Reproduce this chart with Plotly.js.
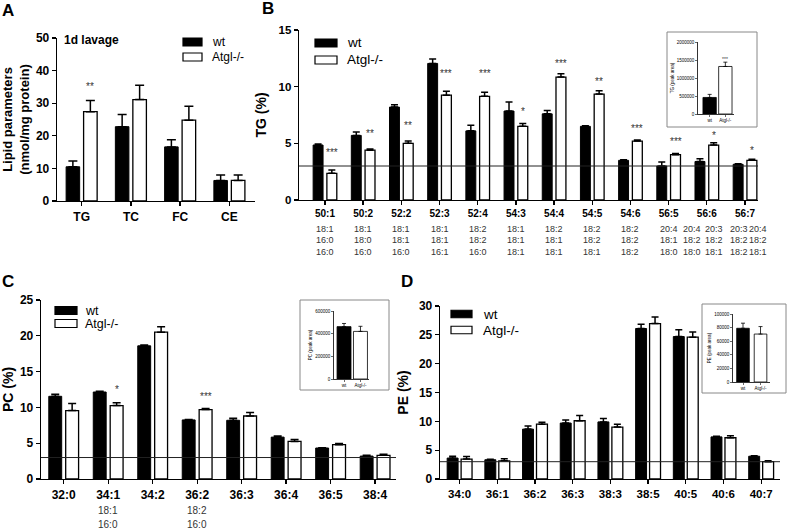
<!DOCTYPE html>
<html>
<head>
<meta charset="utf-8">
<script src="https://cdn.plot.ly/plotly-3.0.1.min.js"></script>
<style>html,body{margin:0;padding:0;background:#fff;}#chart{width:788px;height:531px;}</style>
</head>
<body>
<div id="chart"></div>
<script>
// ---------------- DATA ----------------
// Panel A
const aCategories = ['TG', 'TC', 'FC', 'CE'];
const aWt = [10.5, 22.8, 16.6, 6.3];
const aWtErr = [1.8, 3.7, 2.2, 1.7];
const aKo = [27.4, 31.1, 24.8, 6.3];
const aKoErr = [3.4, 4.4, 4.3, 1.7];
const aStars = ['**', '', '', ''];
const aStarY = [35.9, null, null, null];

// Panel B (TG species); each entry: list of columns, each column = 3 chains
const bCategories = ['50:1', '50:2', '52:2', '52:3', '52:4', '54:3', '54:4', '54:5', '54:6', '56:5', '56:6', '56:7'];
const bChains = [
  [['18:1', '16:0', '16:0']], [['18:1', '18:0', '16:0']], [['18:1', '18:1', '16:0']], [['18:1', '18:1', '16:1']],
  [['18:2', '18:2', '16:0']], [['18:1', '18:1', '18:1']], [['18:2', '18:1', '18:1']], [['18:2', '18:2', '18:1']],
  [['18:2', '18:2', '18:2']], [['20:4', '18:1', '18:0']],
  [['20:4', '18:2', '18:0'], ['20:3', '18:2', '18:1']],
  [['20:3', '18:2', '18:2'], ['20:4', '18:2', '18:1']]
];
const bWt = [4.85, 5.7, 8.2, 12.05, 6.1, 7.85, 7.6, 6.5, 3.5, 3.0, 3.4, 3.15];
const bWtErr = [0.1, 0.3, 0.2, 0.4, 0.5, 0.8, 0.3, 0.05, 0.05, 0.35, 0.25, 0.05];
const bKo = [2.35, 4.4, 5.0, 9.25, 9.15, 6.5, 10.85, 9.35, 5.2, 4.0, 4.85, 3.5];
const bKoErr = [0.3, 0.1, 0.2, 0.35, 0.35, 0.25, 0.3, 0.3, 0.1, 0.1, 0.2, 0.1];
const bStars = ['***', '**', '**', '***', '***', '*', '***', '**', '***', '***', '*', '*'];
const bStarY = [4.4, 6.1, 6.8, 11.4, 11.4, 8.0, 12.3, 10.7, 6.5, 5.35, 5.95, 4.6];

// Panel C (PC species)
const cCategories = ['32:0', '34:1', '34:2', '36:2', '36:3', '36:4', '36:5', '38:4'];
const cChains = [[], [['18:1', '16:0']], [], [['18:2', '16:0']], [], [], [], []];
const cWt = [11.55, 12.15, 18.6, 8.25, 8.2, 5.85, 4.33, 3.2];
const cWtErr = [0.3, 0.1, 0.1, 0.05, 0.3, 0.15, 0.05, 0.1];
const cKo = [9.55, 10.25, 20.5, 9.7, 8.8, 5.25, 4.8, 3.3];
const cKoErr = [1.0, 0.4, 0.75, 0.15, 0.5, 0.25, 0.15, 0.15];
const cStars = ['', '*', '', '***', '', '', '', ''];
const cStarY = [null, 12.8, null, 11.9, null, null, null, null];

// Panel D (PE species)
const dCategories = ['34:0', '36:1', '36:2', '36:3', '38:3', '38:5', '40:5', '40:6', '40:7'];
const dWt = [3.63, 3.34, 8.65, 9.7, 9.9, 26.1, 24.7, 7.3, 3.95];
const dWtErr = [0.3, 0.1, 0.55, 0.55, 0.6, 0.75, 1.2, 0.1, 0.1];
const dKo = [3.45, 3.15, 9.5, 10.1, 9.0, 26.95, 24.6, 7.15, 3.0];
const dKoErr = [0.45, 0.35, 0.35, 0.9, 0.5, 1.15, 0.9, 0.35, 0.15];

// Insets (total peak area)
const insetGroups = ['wt', 'Atgl-/-'];
const bInsetVals = [460000, 1320000];
const bInsetErr = [85000, 120000];
const bInsetStars = ['', '***'];
const bInsetStarY = [null, 1600000];
const cInsetVals = [462000, 420000];
const cInsetErr = [28000, 45000];
const dInsetVals = [79000, 70500];
const dInsetErr = [7500, 11000];

const seriesNames = ['wt', 'Atgl-/-'];
const cutoffLine = 3;

// ---------------- LAYOUT HELPERS ----------------
const W = 788, H = 531;
const FONT = 'Liberation Sans, Arial, Helvetica, sans-serif';
const px = v => v / W;
const py = v => 1 - v / H;

const traces = [];
const annotations = [];
const shapes = [];

function barPair(xa, ya, cats, wt, wtErr, ko, koErr, off, w, capW) {
  const x = cats.map((_, i) => i);
  const zeros = x.map(() => 0);
  traces.push({
    type: 'bar', name: seriesNames[0], x: x, y: wt, xaxis: xa, yaxis: ya,
    offset: -off - w, width: w, showlegend: false, hoverinfo: 'skip',
    marker: {color: '#000', line: {color: '#000', width: 1}},
    error_y: {type: 'data', array: wtErr, arrayminus: zeros, symmetric: false, color: '#000', thickness: 1.5, width: capW}
  });
  traces.push({
    type: 'bar', name: seriesNames[1], x: x, y: ko, xaxis: xa, yaxis: ya,
    offset: off, width: w, showlegend: false, hoverinfo: 'skip',
    marker: {color: '#fff', line: {color: '#000', width: 1.3}},
    error_y: {type: 'data', array: koErr, arrayminus: zeros, symmetric: false, color: '#000', thickness: 1.5, width: capW}
  });
}

function insetBars(xa, ya, vals, errs, w) {
  traces.push({
    type: 'bar', x: insetGroups.map((_, i) => i), y: vals, xaxis: xa, yaxis: ya,
    width: w, showlegend: false, hoverinfo: 'skip',
    marker: {color: ['#000', '#fff'], line: {color: '#000', width: 0.8}},
    error_y: {type: 'data', array: errs, arrayminus: vals.map(() => 0), symmetric: false, color: '#000', thickness: 0.8, width: 2}
  });
}

function stars(xref, yref, list, ys, xOff, size) {
  list.forEach((s, i) => {
    if (!s) return;
    annotations.push({xref: xref, yref: yref, x: i + xOff, y: ys[i], text: s, showarrow: false,
      xanchor: 'center', yanchor: 'middle', yshift: -2.5, font: {family: FONT, size: size, color: '#333'}});
  });
}

function legendBlock(x0, x1, yWt, yKo, h, textX, size) {
  [[yWt, '#000'], [yKo, '#fff']].forEach((p, k) => {
    shapes.push({type: 'rect', xref: 'paper', yref: 'paper', x0: px(x0), x1: px(x1),
      y0: py(p[0] + h / 2), y1: py(p[0] - h / 2), fillcolor: p[1], line: {color: '#000', width: 1.2}});
    annotations.push({xref: 'paper', yref: 'paper', x: px(textX), y: py(p[0]), text: seriesNames[k],
      showarrow: false, xanchor: 'left', yanchor: 'middle', font: {family: FONT, size: size, color: '#000'}});
  });
}

function panelLabel(t, x, y) {
  annotations.push({xref: 'paper', yref: 'paper', x: px(x), y: py(y), text: '<b>' + t + '</b>', showarrow: false,
    xanchor: 'center', yanchor: 'middle', font: {family: FONT, size: 17, color: '#000'}});
}

// columns of a two-column entry are set apart so that neighbouring entries do not collide
const twoColShift = [[-0.4, 0.2], [-0.17, 0.33]];
function chainLabels(xref, chains, yStart, step, size) {
  let twoColCount = 0;
  chains.forEach((cols, i) => {
    const shifts = cols.length === 2 ? twoColShift[twoColCount++] : [0];
    cols.forEach((lines, c) => {
      lines.forEach((t, k) => {
        annotations.push({xref: xref, yref: 'paper', x: i + shifts[c], y: py(yStart + k * step), text: t, showarrow: false,
          xanchor: 'center', yanchor: 'middle', font: {family: FONT, size: size, color: '#333'}});
      });
    });
  });
}

function mainX(domL, domR, range, cats, size) {
  return {domain: [px(domL), px(domR)], range: range, showgrid: false, zeroline: false,
    showline: true, linecolor: '#000', linewidth: 1.3, ticks: 'outside', ticklen: 4, tickwidth: 1.3, tickcolor: '#000',
    tickvals: cats.map((_, i) => i), ticktext: cats, fixedrange: true,
    tickfont: {family: FONT, size: size, color: '#000', weight: 'bold'}};
}
function mainY(domT, domB, range, dtick, title, tsize, standoff, ticksize) {
  return {domain: [py(domB), py(domT)], range: range, dtick: dtick, showgrid: false, zeroline: false,
    showline: true, linecolor: '#000', linewidth: 1.3, ticks: 'outside', ticklen: 4, tickwidth: 1.3, tickcolor: '#000',
    fixedrange: true, tickfont: {family: FONT, size: ticksize, color: '#000', weight: 'bold'},
    title: {text: title, standoff: standoff, font: {family: FONT, size: tsize, color: '#000', weight: 'bold'}}};
}
function insetX(domL, domR, range) {
  return {domain: [px(domL), px(domR)], range: range, showgrid: false, zeroline: false,
    showline: true, linecolor: '#000', linewidth: 0.8, ticks: 'outside', ticklen: 2, tickwidth: 0.8,
    tickvals: insetGroups.map((_, i) => i), ticktext: insetGroups, fixedrange: true,
    tickfont: {family: FONT, size: 4.5, color: '#000'}};
}
function insetY(domT, domB, range, dtick, title) {
  return {domain: [py(domB), py(domT)], range: range, dtick: dtick, showgrid: false, zeroline: false,
    showline: true, linecolor: '#000', linewidth: 0.8, ticks: 'outside', ticklen: 2, tickwidth: 0.8,
    tickformat: 'd', fixedrange: true, tickfont: {family: FONT, size: 4.5, color: '#000'},
    title: {text: title, standoff: 2, font: {family: FONT, size: 4.5, color: '#000'}}};
}
function cutoff(xa, ya) {
  shapes.push({type: 'line', xref: xa + ' domain', yref: ya, x0: 0, x1: 1, y0: cutoffLine, y1: cutoffLine,
    line: {color: '#222', width: 1}});
}
function insetBox(x0, x1, y0, y1) {
  shapes.push({type: 'rect', xref: 'paper', yref: 'paper', layer: 'below', x0: px(x0), x1: px(x1),
    y0: py(y1), y1: py(y0), fillcolor: '#fff', line: {color: '#888', width: 1}});
}

// ---------------- PANELS ----------------
// A
barPair('x', 'y', aCategories, aWt, aWtErr, aKo, aKoErr, 0.04, 0.275, 4.5);
stars('x', 'y', aStars, aStarY, 0.04 + 0.275 / 2, 10);
legendBlock(183, 202, 42, 57, 8, 210, 12);
annotations.push({xref: 'paper', yref: 'paper', x: px(62), y: py(40), text: '<b>1d lavage</b>', showarrow: false,
  xanchor: 'left', yanchor: 'middle', font: {family: FONT, size: 12, color: '#000'}});
panelLabel('A', 8, 11);

// B
barPair('x2', 'y2', bCategories, bWt, bWtErr, bKo, bKoErr, 0.05, 0.26, 3.5);
stars('x2', 'y2', bStars, bStarY, 0.05 + 0.26 / 2, 10);
cutoff('x2', 'y2');
chainLabels('x2', bChains, 229.3, 11.2, 9);
legendBlock(315, 337, 43, 60, 8, 345, 13.5);
panelLabel('B', 268, 9);
insetBox(667, 757, 32, 127);
insetBars('x5', 'y5', bInsetVals, bInsetErr, 0.85);
stars('x5', 'y5', bInsetStars, bInsetStarY, 0, 5);

// C
barPair('x3', 'y3', cCategories, cWt, cWtErr, cKo, cKoErr, 0.045, 0.29, 4);
stars('x3', 'y3', cStars, cStarY, 0.045 + 0.29 / 2, 10);
cutoff('x3', 'y3');
chainLabels('x3', cChains, 510, 14.2, 10);
legendBlock(55, 77, 310.5, 323.5, 8, 83, 12.5);
panelLabel('C', 8, 281);
insetBox(300, 389, 300, 390);
insetBars('x6', 'y6', cInsetVals, cInsetErr, 0.85);

// D
barPair('x4', 'y4', dCategories, dWt, dWtErr, dKo, dKoErr, 0.04, 0.29, 3.5);
cutoff('x4', 'y4');
legendBlock(451, 472, 314, 330, 7.5, 481, 13.5);
panelLabel('D', 407, 281);
insetBox(702, 786, 304, 393);
insetBars('x7', 'y7', dInsetVals, dInsetErr, 0.72);

const layout = {
  width: W, height: H, margin: {l: 0, r: 0, t: 0, b: 0},
  paper_bgcolor: '#fff', plot_bgcolor: 'rgba(0,0,0,0)',
  font: {family: FONT, color: '#000'},
  barmode: 'overlay', showlegend: false,
  xaxis: Object.assign(mainX(57, 255, [-0.5, 3.52], aCategories, 12), {anchor: 'y'}),
  yaxis: Object.assign(mainY(38, 201, [0, 50], 10, 'Lipid parameters<br>(nmol/mg protein)', 13, 3, 12), {anchor: 'x'}),
  xaxis2: Object.assign(mainX(299, 758, [-0.68, 11.34], bCategories, 10), {anchor: 'y2'}),
  yaxis2: Object.assign(mainY(30, 200, [0, 15], 5, 'TG (%)', 14, 8, 11.5), {anchor: 'x2'}),
  xaxis3: Object.assign(mainX(41, 396, [-0.51, 7.47], cCategories, 12), {anchor: 'y3'}),
  yaxis3: Object.assign(mainY(300, 479, [0, 25], 5, 'PC (%)', 14, 4, 12), {anchor: 'x3'}),
  xaxis4: Object.assign(mainX(440, 780, [-0.52, 8.5], dCategories, 11.5), {anchor: 'y4'}),
  yaxis4: Object.assign(mainY(306, 479, [0, 30], 5, 'PE (%)', 14, 7, 12), {anchor: 'x4'}),
  xaxis5: Object.assign(insetX(698, 734, [-0.74, 1.55]), {anchor: 'y5'}),
  yaxis5: Object.assign(insetY(42, 114, [0, 2000000], 500000, 'TG (peak area)'), {anchor: 'x5'}),
  xaxis6: Object.assign(insetX(334, 369, [-0.61, 1.52]), {anchor: 'y6'}),
  yaxis6: Object.assign(insetY(311, 379, [0, 600000], 200000, 'PC (peak area)'), {anchor: 'x6'}),
  xaxis7: Object.assign(insetX(733, 770, [-0.57, 1.54]), {anchor: 'y7'}),
  yaxis7: Object.assign(insetY(314, 382, [0, 100000], 20000, 'PE (peak area)'), {anchor: 'x7'}),
  annotations: annotations,
  shapes: shapes
};

Plotly.newPlot('chart', traces, layout, {displayModeBar: false, staticPlot: true});
</script>
</body>
</html>
